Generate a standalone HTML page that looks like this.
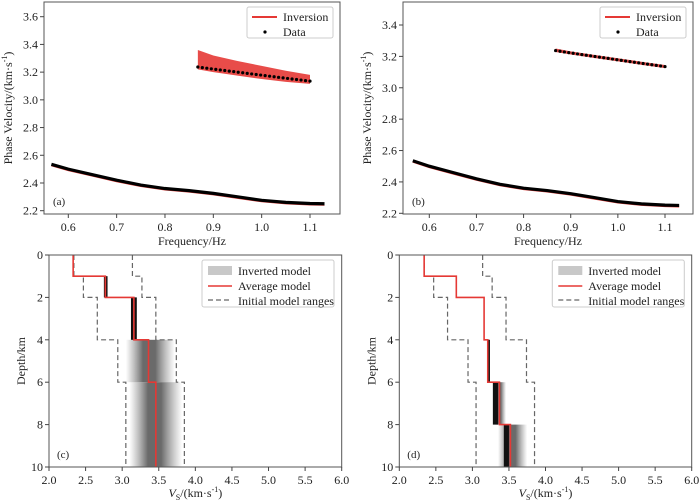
<!DOCTYPE html>
<html><head><meta charset="utf-8"><style>
body{margin:0;background:#fff}
svg{display:block;font-family:"Liberation Serif","Times New Roman",serif}
</style></head><body>
<svg id="s" width="700" height="503" viewBox="0 0 700 503" xmlns="http://www.w3.org/2000/svg">
<defs>
<linearGradient id="g1" x1="0" x2="1"><stop offset="0" stop-color="#888" stop-opacity="0"/><stop offset="0.35" stop-color="#6a6a6a"/><stop offset="0.6" stop-color="#6a6a6a"/><stop offset="1" stop-color="#888" stop-opacity="0"/></linearGradient>
</defs>
</svg>
<script>
// dispersion data
const freqLow=[0.565,0.6,0.65,0.7,0.75,0.8,0.85,0.9,0.95,1.0,1.05,1.1,1.13];
const velLow=[2.535,2.5,2.46,2.42,2.385,2.36,2.345,2.325,2.3,2.275,2.26,2.252,2.25];
const freqHigh=[0.868,0.9,0.95,1.0,1.05,1.1];
const velHigh=[3.237,3.222,3.2,3.178,3.156,3.135];
const bandAUpper=[3.36,3.32,3.28,3.245,3.21,3.18];
const bandALower=[3.22,3.2,3.175,3.15,3.13,3.115];
const bandBUpper=[3.25,3.232,3.21,3.188,3.166,3.145];
const bandBLower=[3.228,3.212,3.19,3.168,3.146,3.125];
// velocity models
const layerTopsC=[0,1,2,4,6];
const layerBotsC=[1,2,4,6,10];
const avgC=[2.33,2.77,3.16,3.36,3.46];
const coreLoC=[2.33,2.75,3.12,3.36,3.46];
const coreHiC=[2.33,2.8,3.2,3.36,3.46];
const spreadLoC=[2.33,2.75,3.12,3.05,3.1];
const spreadHiC=[2.33,2.8,3.2,3.72,3.82];
const layerTopsD=[0,1,2,4,6,8];
const layerBotsD=[1,2,4,6,8,10];
const avgD=[2.34,2.78,3.16,3.21,3.37,3.52];
const coreLoD=[2.34,2.78,3.16,3.2,3.28,3.43];
const coreHiD=[2.34,2.78,3.16,3.24,3.35,3.5];
const spreadLoD=[2.34,2.78,3.16,3.2,3.28,3.35];
const spreadHiD=[2.34,2.78,3.16,3.24,3.46,3.75];
const rangeTops=[0,1,2,4,6];
const rangeBots=[1,2,4,6,10];
const rangeLo=[2.34,2.47,2.66,2.94,3.05];
const rangeHi=[3.14,3.27,3.46,3.74,3.85];
const freqTicks=[0.6,0.7,0.8,0.9,1.0,1.1];
const velTicksA=[2.2,2.4,2.6,2.8,3.0,3.2,3.4,3.6];
const velTicksB=[2.2,2.4,2.6,2.8,3.0,3.2,3.4];
const vsTicks=[2.0,2.5,3.0,3.5,4.0,4.5,5.0,5.5,6.0];
const depthTicks=[0,2,4,6,8,10];

const S=document.getElementById('s');
const NS='http://www.w3.org/2000/svg';
function mk(tag,at,parent){const e=document.createElementNS(NS,tag);for(const k in at)e.setAttribute(k,at[k]);(parent||S).appendChild(e);return e;}
function txt(x,y,s,size,anchor,parent,rot){const e=mk('text',{x:x,y:y,'font-size':size,'text-anchor':anchor||'middle',fill:'#222'},parent);if(rot)e.setAttribute('transform','rotate(-90 '+x+' '+y+')');e.textContent=s;return e;}
function lin(d0,d1,r0,r1){return v=>r0+(v-d0)*(r1-r0)/(d1-d0);}
const FS=12;

function dispPanel(id,L,R,T,B,xs,ys,yTicks,bu,bl,label){
  const g=mk('g',{});
  
  
  let d='';freqHigh.forEach((f,i)=>{d+=(i?'L':'M')+xs(f)+' '+ys(bu[i]);});
  for(let i=freqHigh.length-1;i>=0;i--)d+='L'+xs(freqHigh[i])+' '+ys(bl[i]);
  const band=mk('path',{d:d+'Z',fill:'#e53935',opacity:0.9},g);
  
  
  let p='';freqLow.forEach((f,i)=>{p+=(i?'L':'M')+xs(f)+' '+ys(velLow[i]);});
  const red=mk('path',{d:p,fill:'none',stroke:'#e53935','stroke-width':2,transform:'translate(0,1)'},g);
  
  
  const blk=mk('path',{d:p,fill:'none',stroke:'#000','stroke-width':3.2},g);
  
  
  const n=26;
  for(let k=0;k<n;k++){
    const f=freqHigh[0]+(freqHigh[freqHigh.length-1]-freqHigh[0])*k/(n-1);
    let j=0;while(j<freqHigh.length-2&&f>freqHigh[j+1])j++;
    const t=(f-freqHigh[j])/(freqHigh[j+1]-freqHigh[j]);
    const v=velHigh[j]+t*(velHigh[j+1]-velHigh[j]);
    const c=mk('circle',{cx:xs(f),cy:ys(v),r:1.6,fill:'#000'},g);
    
    
  }
  frame(g,L,R,T,B);
  freqTicks.forEach(t=>{const x=xs(t);mk('line',{x1:x,x2:x,y1:B,y2:B+4,stroke:'#444'},g);txt(x,B+17,t.toFixed(1),FS,'middle',g);});
  yTicks.forEach(t=>{const y=ys(t);mk('line',{x1:L-4,x2:L,y1:y,y2:y,stroke:'#444'},g);txt(L-6,y+4,t.toFixed(1),FS,'end',g);});
  const xl=txt((L+R)/2,B+31,'Frequency/Hz',FS,'middle',g);
  
  const yl=txt(L-32,(T+B)/2,'',FS,'middle',g,true);
  yl.innerHTML='Phase Velocity/(km·s<tspan dy="-5" font-size="8">-1</tspan><tspan dy="5">)</tspan>';
  
  txt(L+9,B-9,label,11,'start',g);
  const lx=R-93,ly=T+5;
  const lg=mk('g',{},g);
  mk('rect',{x:lx,y:ly,width:86,height:31,fill:'#fff',stroke:'#ccc',rx:2},lg);
  mk('line',{x1:lx+5,x2:lx+30,y1:ly+10,y2:ly+10,stroke:'#e53935','stroke-width':2},lg);
  txt(lx+36,ly+14,'Inversion',FS,'start',lg);
  mk('circle',{cx:lx+18,cy:ly+25,r:1.6,fill:'#000'},lg);
  txt(lx+36,ly+29,'Data',FS,'start',lg);
}
function frame(g,L,R,T,B){mk('rect',{x:L,y:T,width:R-L,height:B-T,fill:'none',stroke:'#555','stroke-width':1},g);}

function modelPanel(id,L,R,T,B,tops,bots,avg,cLo,cHi,sLo,sHi,label){
  const xs=lin(2,6,L,R),ys=lin(0,10,T,B);
  const g=mk('g',{});
  
  
  tops.forEach((t,i)=>{
    if(sHi[i]-sLo[i]>0.01){const r=mk('rect',{x:xs(sLo[i]),y:ys(t),width:xs(sHi[i])-xs(sLo[i]),height:ys(bots[i])-ys(t),fill:'url(#g1)'},g);
      }
    if(cHi[i]-cLo[i]>0.01){const r=mk('rect',{x:xs(cLo[i]),y:ys(t),width:xs(cHi[i])-xs(cLo[i]),height:ys(bots[i])-ys(t),fill:'#111'},g);
      }
  });
  function step(vals,tp,bt){let d='';vals.forEach((v,i)=>{d+=(i?'L':'M')+xs(v)+' '+ys(tp[i])+'L'+xs(v)+' '+ys(bt[i]);});return d;}
  [rangeLo,rangeHi].forEach(arr=>{const p=mk('path',{d:step(arr,rangeTops,rangeBots),fill:'none',stroke:'#666','stroke-width':1.2,'stroke-dasharray':'5,3'},g);
    });
  const a=mk('path',{d:step(avg,tops,bots),fill:'none',stroke:'#e53935','stroke-width':1.6},g);
  
  frame(g,L,R,T,B);
  vsTicks.forEach(t=>{const x=xs(t);mk('line',{x1:x,x2:x,y1:B,y2:B+4,stroke:'#444'},g);txt(x,B+17,t.toFixed(1),FS,'middle',g);});
  depthTicks.forEach(t=>{const y=ys(t);mk('line',{x1:L-4,x2:L,y1:y,y2:y,stroke:'#444'},g);txt(L-6,y+4,String(t),FS,'end',g);});
  const xl=txt((L+R)/2,B+30,'',FS,'middle',g);
  xl.innerHTML='<tspan font-style="italic">V</tspan><tspan font-size="8" dy="3">S</tspan><tspan dy="-3">/(km·s</tspan><tspan dy="-5" font-size="8">-1</tspan><tspan dy="5">)</tspan>';
  
  const yl=txt(L-24,(T+B)/2,'Depth/km',FS,'middle',g,true);
  
  txt(L+8,B-9,label,11,'start',g);
  const lx=L+153,ly=T+5;
  const lg=mk('g',{},g);
  mk('rect',{x:lx,y:ly,width:132,height:47,fill:'#fff',stroke:'#ccc',rx:2},lg);
  mk('rect',{x:lx+6,y:ly+6,width:24,height:9,fill:'#c8c8c8'},lg);
  txt(lx+36,ly+15,'Inverted model',FS,'start',lg);
  mk('line',{x1:lx+6,x2:lx+30,y1:ly+26,y2:ly+26,stroke:'#e53935','stroke-width':1.6},lg);
  txt(lx+36,ly+30,'Average model',FS,'start',lg);
  mk('line',{x1:lx+6,x2:lx+30,y1:ly+40,y2:ly+40,stroke:'#666','stroke-width':1.2,'stroke-dasharray':'5,3'},lg);
  txt(lx+36,ly+45,'Initial model ranges',FS,'start',lg);
}

dispPanel('a',44,340,2,214,lin(0.6,1.1,68.3,310),lin(2.2,3.6,210.7,16.7),velTicksA,bandAUpper,bandALower,'(a)');
dispPanel('b',403,693,2,214,lin(0.6,1.1,429.3,665),lin(2.2,3.4,213.3,25),velTicksB,bandBUpper,bandBLower,'(b)');
modelPanel('c',49,341.7,255,467,layerTopsC,layerBotsC,avgC,coreLoC,coreHiC,spreadLoC,spreadHiC,'(c)');
modelPanel('d',399.3,691.7,255,467,layerTopsD,layerBotsD,avgD,coreLoD,coreHiD,spreadLoD,spreadHiD,'(d)');
</script>
</body></html>
